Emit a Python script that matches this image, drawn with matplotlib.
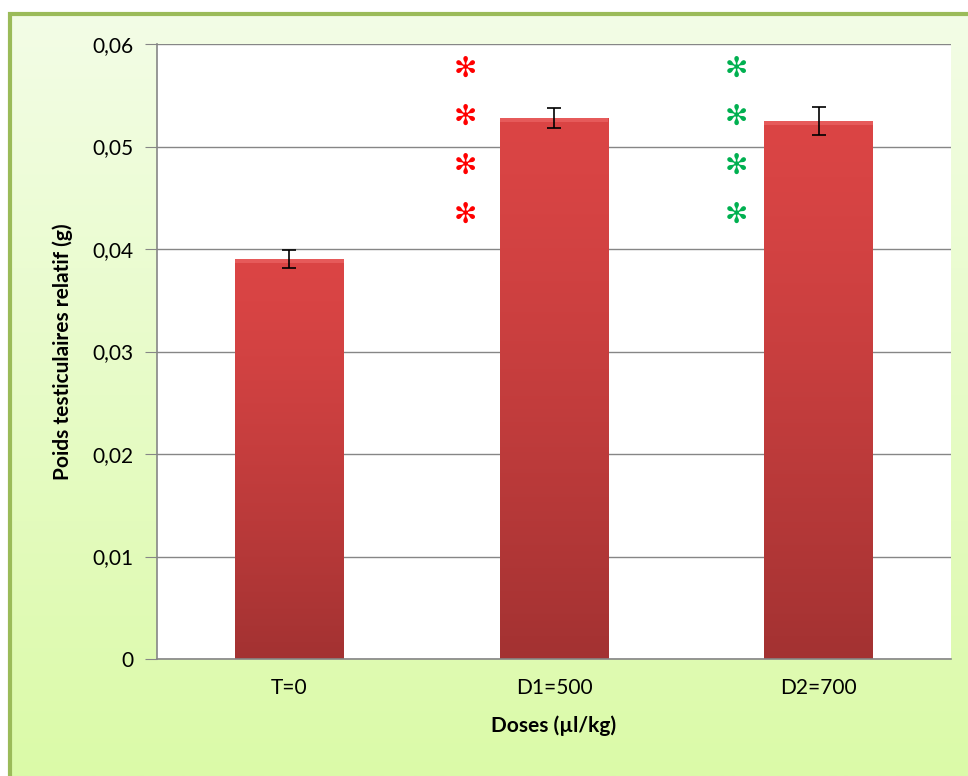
import numpy as np
import matplotlib.pyplot as plt
from matplotlib.patches import Rectangle
from matplotlib.ticker import FuncFormatter

plt.rcParams['font.family'] = ['Lato', 'DejaVu Sans']

doses = ['T=0', 'D1=500', 'D2=700']
poids = [0.0390, 0.0528, 0.0525]
erreurs = [0.0009, 0.0010, 0.0014]
star_y = [0.0576, 0.0529, 0.0481, 0.0433]
star_x = [0.665, 1.69]
star_colors = ['#ff0000', '#00b050']

W, H = 968, 776
fig = plt.figure(figsize=(W / 100, H / 100), dpi=100)
fig.patch.set_facecolor('white')

# green gradient frame
bg = fig.add_axes([10 / W, 0, 1 - 10 / W, 1 - 14 / H], zorder=0)
grad = np.linspace(0, 1, 256).reshape(-1, 1)
top = np.array([0xf3, 0xfd, 0xe6]) / 255
bot = np.array([0xdb, 0xfa, 0xa8]) / 255
img = top + (bot - top) * grad[..., None]
bg.imshow(img, aspect='auto', extent=[0, 1, 0, 1], origin='upper')
bg.add_patch(Rectangle((0, -0.2), 1.3, 1.2, fill=False, edgecolor='#9bbb59',
                       linewidth=3, transform=bg.transAxes, clip_on=False))
bg.set_axis_off()

ax = fig.add_axes([157 / W, 1 - 659 / H, (951 - 157) / W, (659 - 44) / H], zorder=1)
ax.set_facecolor('white')
x = np.arange(len(doses))
bars = ax.bar(x, poids, width=0.41, color='#c93c3c', zorder=2)

# vertical gradient inside bars
bgrad = np.linspace(0, 1, 256).reshape(-1, 1)
c_top = np.array([0xdb, 0x45, 0x45]) / 255
c_bot = np.array([0xa3, 0x32, 0x32]) / 255
bimg = c_top + (c_bot - c_top) * bgrad[..., None] ** 1.3
for b in bars:
    bx, bw, bh = b.get_x(), b.get_width(), b.get_height()
    im = ax.imshow(bimg, aspect='auto', extent=[bx, bx + bw, 0, bh],
                   origin='upper', zorder=2.5)
    im.set_clip_path(b)
    ax.add_patch(Rectangle((bx, bh - 0.0004), bw, 0.0004, color='#e65a5a',
                           zorder=2.6, linewidth=0))

ax.errorbar(x, poids, yerr=erreurs, fmt='none', ecolor='black',
            elinewidth=1.2, capsize=5, capthick=1.2, zorder=3)

for sx, col in zip(star_x, star_colors):
    for sy in star_y:
        ax.text(sx, sy, '✻', color=col, fontsize=20, ha='center', va='center',
                family=['DejaVu Sans'], zorder=4)

ax.set_xlim(-0.5, 2.5)
ax.set_ylim(0, 0.06)
ax.set_yticks(np.arange(0, 0.061, 0.01))
ax.yaxis.set_major_formatter(FuncFormatter(
    lambda v, p: '0' if abs(v) < 1e-9 else f'{v:.2f}'.replace('.', ',')))
ax.set_xticks(x)
ax.set_xticklabels(doses)
ax.grid(axis='y', color='#868686', linewidth=1, zorder=1)
ax.set_axisbelow(True)
for s in ['top', 'right']:
    ax.spines[s].set_visible(False)
for s in ['left', 'bottom']:
    ax.spines[s].set_color('#868686')
    ax.spines[s].set_linewidth(1.2)
ax.tick_params(axis='y', length=9, color='#868686', labelsize=15, pad=8)
ax.tick_params(axis='x', length=0, labelsize=15, pad=14)
ax.set_xlabel('Doses (µl/kg)', fontsize=15, fontweight='bold', labelpad=12)
ax.set_ylabel('Poids testiculaires relatif (g)', fontsize=15,
              fontweight='bold', labelpad=14)

fig.savefig('out.png', dpi=100)
